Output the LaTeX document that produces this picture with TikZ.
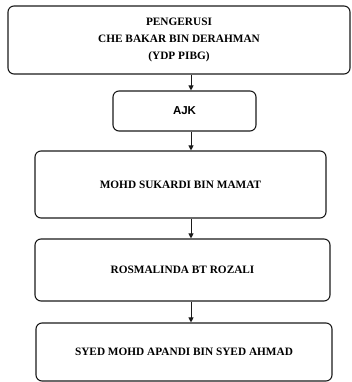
\documentclass[tikz,border=0pt]{standalone}
\usepackage{fontspec}
\usetikzlibrary{arrows.meta}
\setmainfont{Liberation Serif}
\newfontfamily\ajkfont{Liberation Sans}
\definecolor{orgline}{HTML}{1A1A1A}
\newcommand{\orglab}{\fontsize{11.3}{17}\selectfont\bfseries}
\tikzset{
  orgbox/.style={draw=orgline,line width=1.1,rounded corners=6,align=center,inner sep=0,font=\orglab},
  orgarr/.style={-{Triangle[length=5,width=5]},draw=orgline,line width=1}
}
\begin{document}
\begin{tikzpicture}[x=1pt,y=1pt]
\useasboundingbox (0,0) rectangle (352,382);
\node[orgbox,minimum width=342,minimum height=68] (pengerusi) at (179,342)
  {PENGERUSI\\ CHE BAKAR BIN DERAHMAN\\ (YDP PIBG)};
\node[orgbox,minimum width=143,minimum height=40,font=\ajkfont\fontsize{11.5}{14}\selectfont\bfseries] (ajk) at (184.5,271)
  {AJK};
\node[orgbox,minimum width=291,minimum height=67] (sukardi) at (180.5,197.5)
  {MOHD SUKARDI BIN MAMAT};
\node[orgbox,minimum width=295,minimum height=62] (rosmalinda) at (182.5,112)
  {ROSMALINDA BT ROZALI};
\node[orgbox,minimum width=296,minimum height=58] (apandi) at (184,30)
  {SYED MOHD APANDI BIN SYED AHMAD};
\coordinate (axis) at (191,0);
% garis hierarki
\draw[orgarr] (pengerusi.south -| axis) -- (ajk.north -| axis);
\draw[orgarr] (ajk.south -| axis) -- (sukardi.north -| axis);
\draw[orgarr] (sukardi.south -| axis) -- (rosmalinda.north -| axis);
\draw[orgarr] (rosmalinda.south -| axis) -- (apandi.north -| axis);
\end{tikzpicture}
\end{document}
